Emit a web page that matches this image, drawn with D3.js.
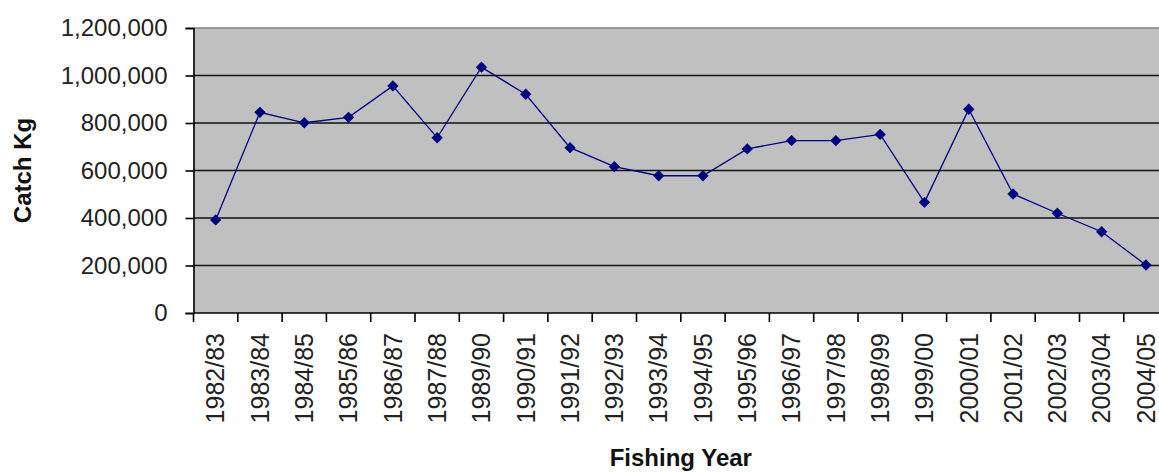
<!DOCTYPE html>
<html>
<head>
<meta charset="utf-8">
<script src="https://cdn.jsdelivr.net/npm/d3@7"></script>
<style>
  body { margin: 0; background: #fff; }
  svg { display: block; font-family: "Liberation Sans", Arial, sans-serif; }
</style>
</head>
<body>
<div id="chart"></div>
<script>
  // fishing years (1988/89 is not in the series)
  const years = [
    "1982/83", "1983/84", "1984/85", "1985/86", "1986/87", "1987/88",
    "1989/90", "1990/91", "1991/92", "1992/93", "1993/94", "1994/95",
    "1995/96", "1996/97", "1997/98", "1998/99", "1999/00", "2000/01",
    "2001/02", "2002/03", "2003/04", "2004/05"
  ];
  const catchKg = [
    392000, 845000, 801000, 824000, 956000, 738000,
    1035000, 921000, 696000, 616000, 578000, 578000,
    691000, 726000, 726000, 752000, 466000, 858000,
    501000, 420000, 342000, 202000
  ];
  const yTicks = [0, 200000, 400000, 600000, 800000, 1000000, 1200000];

  const width = 1159, height = 472;
  const plotLeft = 193.5, plotTop = 28, plotBottom = 313;
  const plotRight = plotLeft + years.length * 44.3;
  const navy = "#000080";

  const svg = d3.select("#chart")
    .append("svg")
    .attr("width", width)
    .attr("height", height);

  const x = d3.scaleBand().domain(years).range([plotLeft, plotRight]);
  const y = d3.scaleLinear().domain([0, 1200000]).range([plotBottom, plotTop]);

  // plot area
  svg.append("rect")
    .attr("x", plotLeft)
    .attr("y", plotTop)
    .attr("width", plotRight - plotLeft)
    .attr("height", plotBottom - plotTop)
    .attr("fill", "#c0c0c0");

  // gridlines
  svg.append("g")
    .selectAll("line")
    .data(yTicks.filter((d) => d > 0 && d < 1200000))
    .join("line")
    .attr("x1", plotLeft)
    .attr("x2", plotRight)
    .attr("y1", (d) => y(d))
    .attr("y2", (d) => y(d))
    .attr("stroke", "#111")
    .attr("stroke-width", 1.6);

  svg.append("line")
    .attr("x1", plotLeft)
    .attr("x2", plotRight)
    .attr("y1", plotTop)
    .attr("y2", plotTop)
    .attr("stroke", "#808080")
    .attr("stroke-width", 1.5);

  // y axis
  svg.append("g")
    .attr("transform", `translate(${plotLeft},0)`)
    .call(d3.axisLeft(y).tickValues(yTicks).tickFormat(d3.format(",")).tickSize(8).tickPadding(18))
    .call((g) => g.select(".domain").attr("stroke", "#000").attr("stroke-width", 1.6))
    .call((g) => g.selectAll(".tick line").attr("stroke", "#000").attr("stroke-width", 1.6))
    .call((g) => g.selectAll(".tick text")
      .attr("font-size", 24)
      .attr("font-family", "Liberation Sans, Arial, sans-serif")
      .attr("fill", "#222"));

  // x axis line + boundary ticks
  svg.append("line")
    .attr("x1", plotLeft)
    .attr("x2", plotRight)
    .attr("y1", plotBottom)
    .attr("y2", plotBottom)
    .attr("stroke", "#000")
    .attr("stroke-width", 1.6);

  svg.append("g")
    .selectAll("line")
    .data(years)
    .join("line")
    .attr("x1", (d) => x(d))
    .attr("x2", (d) => x(d))
    .attr("y1", plotBottom)
    .attr("y2", plotBottom + 9)
    .attr("stroke", "#000")
    .attr("stroke-width", 1.6);

  svg.append("g")
    .selectAll("text")
    .data(years)
    .join("text")
    .attr("transform", (d) => `translate(${x(d) + x.bandwidth() / 2},333) rotate(-90)`)
    .attr("text-anchor", "end")
    .attr("dy", "0.35em")
    .attr("font-size", 25)
    .attr("fill", "#222")
    .text((d) => d);

  // series
  const line = d3.line()
    .x((d, i) => x(years[i]) + x.bandwidth() / 2)
    .y((d) => y(d));

  svg.append("path")
    .datum(catchKg)
    .attr("fill", "none")
    .attr("stroke", navy)
    .attr("stroke-width", 1.3)
    .attr("d", line);

  svg.append("g")
    .selectAll("path")
    .data(catchKg)
    .join("path")
    .attr("transform", (d, i) => `translate(${x(years[i]) + x.bandwidth() / 2},${y(d)}) rotate(45)`)
    .attr("d", d3.symbol(d3.symbolSquare, 64))
    .attr("fill", navy);

  // axis titles
  svg.append("text")
    .attr("transform", `translate(31,${(plotTop + plotBottom) / 2}) rotate(-90)`)
    .attr("text-anchor", "middle")
    .attr("font-size", 24)
    .attr("font-weight", "bold")
    .attr("fill", "#111")
    .text("Catch Kg");

  svg.append("text")
    .attr("x", (plotLeft + plotRight) / 2)
    .attr("y", 466)
    .attr("text-anchor", "middle")
    .attr("font-size", 24)
    .attr("font-weight", "bold")
    .attr("fill", "#111")
    .text("Fishing Year");
</script>
</body>
</html>
